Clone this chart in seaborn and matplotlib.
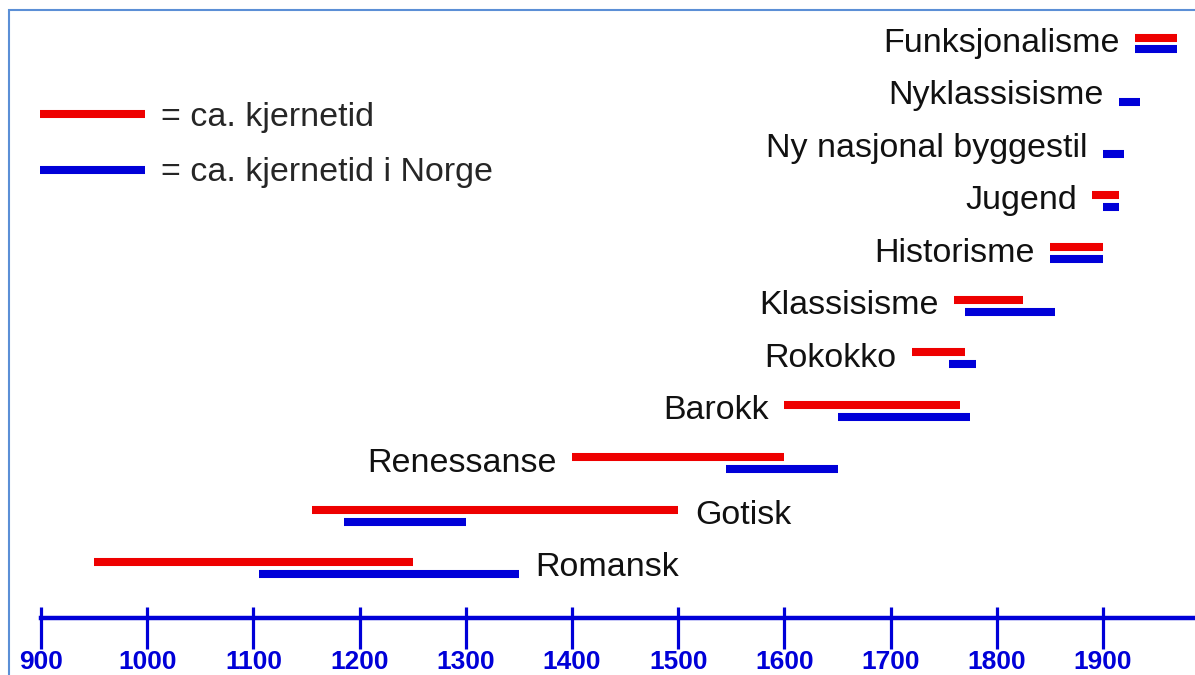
import numpy as np
import pandas as pd
import seaborn as sns
import matplotlib.pyplot as plt
from matplotlib.patches import Rectangle
from matplotlib.ticker import FixedLocator

# styles, top to bottom
styles = [
    "Funksjonalisme", "Nyklassisisme", "Ny nasjonal byggestil", "Jugend",
    "Historisme", "Klassisisme", "Rokokko", "Barokk", "Renessanse",
    "Gotisk", "Romansk",
]
# core period in general (None = not shown)
red_start = [1930, None, None, 1890, 1850, 1760, 1720, 1600, 1400, 1155, 950]
red_end = [1970, None, None, 1915, 1900, 1825, 1770, 1765, 1600, 1500, 1250]
# core period in Norway
blue_start = [1930, 1915, 1900, 1900, 1850, 1770, 1755, 1650, 1545, 1185, 1105]
blue_end = [1970, 1935, 1920, 1915, 1900, 1855, 1780, 1775, 1650, 1300, 1350]
# label to the right of the bars instead of the left
label_right = ["Gotisk", "Romansk"]
tick_years = list(range(900, 2000, 100))

RED_LABEL = "= ca. kjernetid"
BLUE_LABEL = "= ca. kjernetid i Norge"

# build long table: one row per segment end point
rows = []
for i, name in enumerate(styles):
    if red_start[i] is not None:
        for yr in (red_start[i], red_end[i]):
            rows.append({"style": name, "kind": RED_LABEL, "year": yr, "row": i - 0.114})
    for yr in (blue_start[i], blue_end[i]):
        rows.append({"style": name, "kind": BLUE_LABEL, "year": yr, "row": i + 0.114})
df = pd.DataFrame(rows)

sns.set_theme(style="white")
plt.rcParams["font.family"] = ["Liberation Sans", "DejaVu Sans"]

fig = plt.figure(figsize=(11.95, 6.75), dpi=100)
ax = fig.add_axes([0, 0, 1, 1])

sns.lineplot(
    data=df, x="year", y="row", hue="kind", units="style", estimator=None,
    sort=False, palette={RED_LABEL: "#ee0000", BLUE_LABEL: "#0000d8"},
    linewidth=5.8, solid_capstyle="butt", ax=ax,
)

# pixel mapping: 900 -> x=41, 1 century = 106.2 px
px_per_year = 1.062
ax.set_xlim(900 - 41 / px_per_year, 900 + (1195 - 41) / px_per_year)
px_per_row = (568 - 43.5) / 10
ax.set_ylim(10 + (675 - 568) / px_per_row, -43.5 / px_per_row)
axis_row = 10 + (618 - 568) / px_per_row

# style labels
for i, name in enumerate(styles):
    starts = [v for v in (red_start[i], blue_start[i]) if v is not None]
    ends = [v for v in (red_end[i], blue_end[i]) if v is not None]
    if name in label_right:
        ax.annotate(name, (max(ends), i), xytext=(12, 0), textcoords="offset points",
                    ha="left", va="center", fontsize=24.5, color="#111111")
    else:
        ax.annotate(name, (min(starts), i), xytext=(-11, 0), textcoords="offset points",
                    ha="right", va="center", fontsize=24.5, color="#111111")

# timeline axis
axis_blue = "#0000d8"
for side in ["top", "left", "right"]:
    ax.spines[side].set_visible(False)
ax.spines["bottom"].set_position(("data", axis_row))
ax.spines["bottom"].set_color(axis_blue)
ax.spines["bottom"].set_linewidth(3.2)
ax.spines["bottom"].set_bounds(900, ax.get_xlim()[1])
ax.set_xticks(tick_years)
ax.set_xticklabels([str(y) for y in tick_years], fontsize=19, fontweight="bold",
                   color=axis_blue)
ax.xaxis.set_minor_locator(FixedLocator(tick_years))
ax.xaxis.remove_overlapping_locs = False
ax.tick_params(axis="x", which="major", direction="out", length=22.5, width=2.3,
               color=axis_blue, pad=0.5, bottom=True)
ax.tick_params(axis="x", which="minor", direction="in", length=8, width=2.3,
               color=axis_blue, bottom=True)
ax.set_yticks([])
ax.set_xlabel("")
ax.set_ylabel("")
ax.patch.set_alpha(0)

# legend
leg = ax.legend(
    loc="upper left", bbox_to_anchor=(40 / 1195, 1 - 102 / 675),
    bbox_transform=fig.transFigure, frameon=False, fontsize=24.5,
    handlelength=3.1, handletextpad=0.47, labelspacing=0.72, borderpad=0,
    borderaxespad=0,
)
for h in leg.get_lines():
    h.set_linewidth(5.8)

# light blue frame
fig.patches.append(Rectangle((9 / 1195, -0.1), 1.2, 1 - 10 / 675 + 0.1,
                             transform=fig.transFigure, fill=False,
                             edgecolor="#5b8fd6", linewidth=1.5))

fig.savefig("out.png", dpi=100)
